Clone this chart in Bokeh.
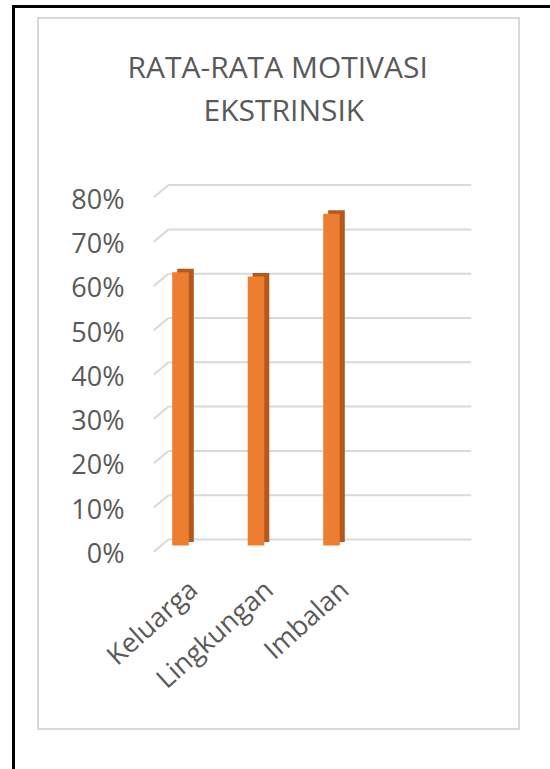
import math
from bokeh.plotting import figure
from bokeh.models import (Range1d, FixedTicker, NumeralTickFormatter, LinearAxis,
                          Title, ColumnDataSource, InlineStyleSheet)
from bokeh.transform import dodge
from bokeh.embed import file_html
from bokeh.resources import INLINE

# ---- data ----
categories = ["Keluarga", "Lingkungan", "Imbalan"]
values = [0.617, 0.607, 0.749]
y_ticks = [0.0, 0.1, 0.2, 0.3, 0.4, 0.5, 0.6, 0.7, 0.8]
title_lines = ["RATA-RATA MOTIVASI", "EKSTRINSIK"]

# ---- layout constants (pixels) ----
W, H = 550, 769
FL, FR, FT, FB = 153, 471, 170, 556   # frame edges
WALL_L = 168                          # left edge of the back wall
PX_Y = 443.0        # pixels per 100 %
PX_X = 75.5         # pixels per category slot
BAR_BASE = 545      # y pixel of bar bottom
BACK_BASE = 539     # y pixel of back-wall 0 % line
FRONT_BASE = 552    # y pixel of 0 % tick label
DEPTH = 12.5        # vertical pixel drop of the floor slant

TXT = "#595959"
GRID = "#d9d9d9"
FONT = "Open Sans"

x_start = -(180 - FL) / PX_X
x_end = x_start + (FR - FL) / PX_X
x_range = Range1d(x_start, x_end)
y_start = -(FB - BAR_BASE) / PX_Y
y_range = Range1d(y_start, y_start + (FB - FT) / PX_Y)


def xd(px):
    return x_start + (px - FL) / PX_X


css = InlineStyleSheet(css="""
:host {
  background-image:
    linear-gradient(#000, #000), linear-gradient(#000, #000),
    linear-gradient(#d9d9d9, #d9d9d9), linear-gradient(#d9d9d9, #d9d9d9),
    linear-gradient(#d9d9d9, #d9d9d9), linear-gradient(#d9d9d9, #d9d9d9);
  background-position: 12px 5px, 12px 5px, 37px 17px, 37px 17px, 518px 17px, 37px 728px;
  background-size: 3px 2000px, 2000px 3px, 2px 713px, 483px 2px, 2px 713px, 483px 2px;
  background-repeat: no-repeat;
}
""")

p = figure(width=W, height=H, x_range=x_range, y_range=y_range,
           output_backend="svg", toolbar_location=None,
           x_axis_type=None, y_axis_type=None,
           min_border_left=FL, min_border_right=W - FR,
           min_border_top=FT, min_border_bottom=H - FB,
           stylesheets=[css])
p.outline_line_color = None
p.background_fill_color = None
p.border_fill_color = None

bs = -(FB - BACK_BASE) / PX_Y
fs = -(FB - FRONT_BASE) / PX_Y
p.extra_y_ranges = {
    "back": Range1d(bs, bs + (FB - FT) / PX_Y),
    "front": Range1d(fs, fs + (FB - FT) / PX_Y),
}
lab_shift = 12 / PX_X
p.extra_x_ranges = {"lab": Range1d(x_start - lab_shift, x_end - lab_shift)}

# grid lines on the back wall + floor slants
n = len(y_ticks)
p.segment(x0=[xd(WALL_L)] * n, x1=[x_end] * n, y0=y_ticks, y1=y_ticks,
          y_range_name="back", line_color=GRID, line_width=2)
p.segment(x0=[xd(WALL_L)] * n, x1=[xd(FL)] * n, y0=y_ticks,
          y1=[t - DEPTH / PX_Y for t in y_ticks],
          y_range_name="back", line_color=GRID, line_width=2)

# y axis
yaxis = LinearAxis(y_range_name="front", ticker=FixedTicker(ticks=y_ticks),
                   formatter=NumeralTickFormatter(format="0%"),
                   axis_line_color=None, major_tick_line_color=None,
                   minor_tick_line_color=None, major_label_standoff=FL - 130,
                   major_label_text_font=FONT, major_label_text_font_size="27px",
                   major_label_text_color=TXT)
p.add_layout(yaxis, "left")

# x axis
xaxis = LinearAxis(x_range_name="lab", ticker=FixedTicker(ticks=list(range(len(categories)))),
                   major_label_overrides={i: c for i, c in enumerate(categories)},
                   axis_line_color=None, major_tick_line_color=None,
                   minor_tick_line_color=None, major_label_standoff=22,
                   major_label_orientation=math.radians(42),
                   major_label_text_font=FONT, major_label_text_font_size="27px",
                   major_label_text_color=TXT)
p.add_layout(xaxis, "below")

# bars (pseudo 3D)
src = ColumnDataSource(dict(x=list(range(len(categories))), value=values, cat=categories))
dx, dy = 5 / PX_X, 3.5 / PX_Y
BW = 16.6 / PX_X
p.vbar(x=dodge("x", dx, range=p.x_range), top=dodge("value", dy, range=p.y_range),
       bottom=dy, width=BW, source=src, fill_color="#B3591C", line_color=None)
p.vbar(x="x", top="value", bottom=0, width=BW, source=src,
       fill_color="#ED7D31", line_color=None)

# titles (nearest to the plot first); a blank spacer keeps the gap above the plot
p.add_layout(Title(text=" ", text_font=FONT, text_font_size="29px", standoff=0), "above")
p.add_layout(Title(text=title_lines[1], align="left", offset=203 - FL,
                   text_font=FONT, text_font_size="30px", text_font_style="normal",
                   text_color=TXT, standoff=0), "above")
p.add_layout(Title(text=title_lines[0], align="left", offset=127 - FL,
                   text_font=FONT, text_font_size="30px", text_font_style="normal",
                   text_color=TXT, standoff=0), "above")

open("out.html", "w").write(file_html(p, INLINE))
